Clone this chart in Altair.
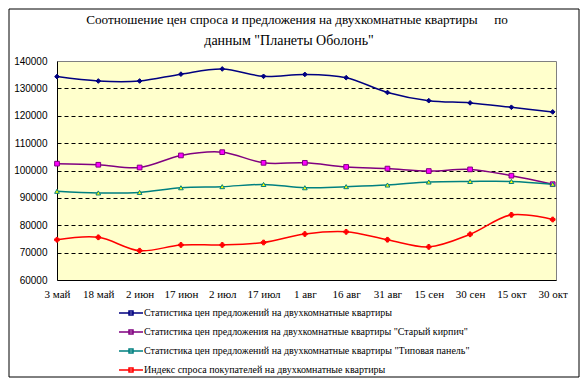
import json
import altair as alt
import pandas as pd

# ---------------- data ----------------
dates = ["3 май", "18 май", "2 июн", "17 июн", "2 июл", "17 июл", "1 авг",
         "16 авг", "31 авг", "15 сен", "30 сен", "15 окт", "30 окт"]
series_names = [
    "Статистика цен предложений на двухкомнатные квартиры",
    'Статистика цен предложения на двухкомнатные квартиры "Старый кирпич"',
    'Статистика цен предложений на двухкомнатные квартиры "Типовая панель"',
    "Индекс спроса покупателей на двухкомнатные квартиры",
]
all_flats = [134300, 132700, 132700, 135200, 137100, 134400, 135100, 133900,
             128500, 125500, 124700, 123100, 121400]
old_brick = [102500, 102100, 101100, 105500, 106700, 102800, 102800, 101300,
             100700, 99800, 100400, 98100, 95000]
panel = [92400, 91800, 92000, 93700, 94100, 94900, 93700, 94100, 94700,
         95800, 96000, 96000, 95000]
demand = [74700, 75600, 70700, 72800, 72800, 73700, 76800, 77600, 74700,
          72100, 76700, 83800, 82100]
y_ticks = [60000, 70000, 80000, 90000, 100000, 110000, 120000, 130000, 140000]
title_lines = [
    "Соотношение цен спроса и предложения на двухкомнатные квартиры\u00a0\u00a0\u00a0\u00a0\u00a0по",
    'данным "Планеты Оболонь"',
]

SERIF = "'Times New Roman', 'Liberation Serif', 'DejaVu Serif', serif"
SANS = "Arial, 'Liberation Sans', sans-serif"

line_colors = ["#000080", "#800080", "#008080", "#FF0000"]
marker_fills = ["#000080", "#FF00FF", "#FFFF00", "#FF0000"]
marker_shapes = ["diamond", "square", "triangle-up", "cross"]
legend_path = "M-3,0H3M-0.5,-0.5H0.5V0.5H-0.5Z"

rows = []
for name, vals in zip(series_names, [all_flats, old_brick, panel, demand]):
    for i, v in enumerate(vals):
        rows.append({"idx": i, "series": name, "value": v})
df = pd.DataFrame(rows)

x_enc = alt.X(
    "idx:Q",
    scale=alt.Scale(domain=[0, 12.08], nice=False, zero=False),
    axis=alt.Axis(
        values=list(range(len(dates))),
        labelExpr=f"{json.dumps(dates, ensure_ascii=False)}[datum.value]",
        title=None, grid=False, ticks=False, labelFlush=False,
        domainColor="black", domainWidth=1,
        labelFont=SERIF, labelFontSize=11, labelColor="black",
        labelPadding=8, labelOverlap=False,
    ),
)
y_enc = alt.Y(
    "value:Q",
    scale=alt.Scale(domain=[60000, 140000], nice=False, zero=False),
    axis=alt.Axis(
        values=y_ticks, format="d", title=None, ticks=False, labelFlush=False,
        domainColor="black", domainWidth=1, labelOverlap=False,
        labelFont=SANS, labelFontSize=10, labelColor="black",
        labelPadding=10,
        grid=True, gridColor="black", gridDash=[4, 3], gridWidth=1,
        gridOpacity={"condition": {"test": "datum.value <= 60000 || datum.value >= 140000",
                                   "value": 0}, "value": 1},
    ),
)

legend_cfg = alt.Legend(
    title=None, orient="none", legendX=69, legendY=247,
    direction="vertical", padding=0,
    symbolType=legend_path, symbolSize=64, symbolStrokeWidth=1.5,
    labelFont=SERIF, labelFontSize=10,
    labelColor="black", labelOffset=8, rowPadding=9, labelLimit=500,
)

lines = alt.Chart(df).mark_line(interpolate="catmull-rom", strokeWidth=1.5).encode(
    x=x_enc,
    y=y_enc,
    color=alt.Color("series:N", scale=alt.Scale(domain=series_names, range=line_colors),
                    legend=legend_cfg),
)

point_layers = []
for name, shp, fc, sc in zip(series_names, marker_shapes, marker_fills, line_colors):
    point_layers.append(
        alt.Chart(df).transform_filter(alt.datum.series == name).mark_point(
            filled=True, shape=shp, size=22, fill=fc, stroke=sc, strokeWidth=1, opacity=1
        ).encode(x=x_enc, y=y_enc)
    )

border = alt.Chart(pd.DataFrame({"b": [0]})).mark_rect(
    fillOpacity=0, stroke="black", strokeWidth=1
).encode(
    x=alt.value(-48), x2=alt.value(522), y=alt.value(-52), y2=alt.value(316)
)

title_df = pd.DataFrame({"line": title_lines, "cx": [240, 232], "by": [-37, -16],
                         "fs": [13.2, 14]})
title_marks = alt.Chart(title_df).mark_text(
    font=SERIF, color="black", align="center", baseline="alphabetic"
).encode(
    text="line:N",
    x=alt.X("cx:Q", scale=None),
    y=alt.Y("by:Q", scale=None),
    size=alt.Size("fs:Q", scale=None, legend=None),
)

chart = alt.layer(border, lines, *point_layers, title_marks).properties(
    width=499,
    height=219,
    autosize=alt.AutoSizeParams(type="none"),
    padding={"left": 49, "top": 53, "right": 24, "bottom": 98},
    background="white",
).configure_view(fill="#FFFFCC", stroke="#808080", strokeWidth=1)

chart.save("out.html", embed_options={"renderer": "svg", "actions": False})
